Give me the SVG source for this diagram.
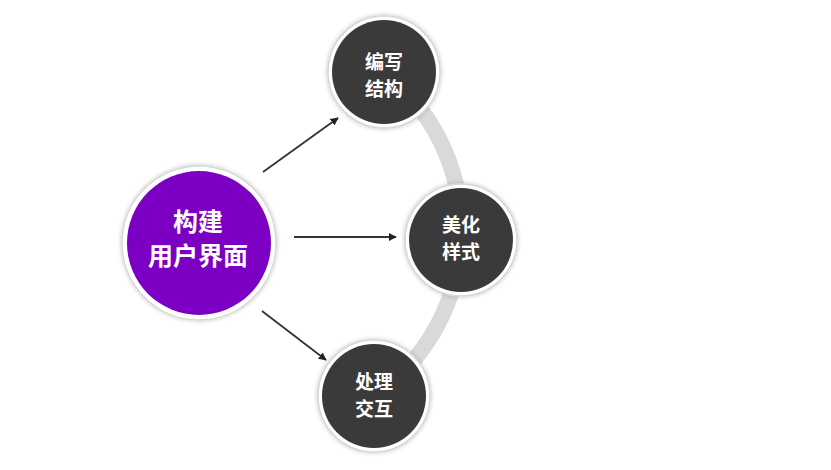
<svg xmlns="http://www.w3.org/2000/svg" width="831" height="470" viewBox="0 0 831 470">
<style>
.ring{fill:#ffffff;stroke:#d6d6d6;stroke-width:1.5}
.dark{fill:#3a3a3a}
.purple{fill:#7b00c4}
.t{font-family:"Noto Sans CJK SC","Noto Sans",sans-serif;font-weight:bold;fill:#ffffff;text-anchor:middle}
.s{font-size:19px}
.b{font-size:25px}
.conn{stroke:#333333;stroke-width:1.8;fill:none;marker-end:url(#ah)}
</style>
<defs>
<marker id="ah" viewBox="0 0 10 10" refX="9" refY="5" markerWidth="8" markerHeight="8" orient="auto" markerUnits="userSpaceOnUse">
<path d="M0,0 L10,5 L0,10 z" fill="#222222"/>
</marker>
<filter id="sh" x="-20%" y="-20%" width="140%" height="140%">
<feGaussianBlur in="SourceAlpha" stdDeviation="2"/>
<feOffset dx="0" dy="0" result="b"/>
<feFlood flood-color="#000000" flood-opacity="0.25"/>
<feComposite in2="b" operator="in"/>
<feMerge><feMergeNode/><feMergeNode in="SourceGraphic"/></feMerge>
</filter>
</defs>
<rect width="831" height="470" fill="#ffffff"/>
<path d="M384,72 A201,201 0 0 1 374,396" fill="none" stroke="#d9d9d9" stroke-width="16"/>
<g id="connectors">
<line class="conn" x1="263" y1="172" x2="338" y2="118"/>
<line class="conn" x1="294" y1="237" x2="396" y2="237"/>
<line class="conn" x1="262" y1="311" x2="326" y2="360"/>
</g>
<g id="node-main">
<circle class="ring" cx="199" cy="243" r="77" filter="url(#sh)"/>
<circle class="purple" cx="199" cy="243" r="72"/>
<text class="t b" x="198" y="231">构建</text>
<text class="t b" x="198" y="265">用户界面</text>
</g>
<g id="node-structure">
<circle class="ring" cx="384" cy="72" r="56" filter="url(#sh)"/>
<circle class="dark" cx="384" cy="72" r="52"/>
<text class="t s" x="384" y="69">编写</text>
<text class="t s" x="384" y="96">结构</text>
</g>
<g id="node-style">
<circle class="ring" cx="461" cy="240" r="56" filter="url(#sh)"/>
<circle class="dark" cx="461" cy="240" r="52"/>
<text class="t s" x="461" y="232">美化</text>
<text class="t s" x="461" y="259">样式</text>
</g>
<g id="node-interaction">
<circle class="ring" cx="374" cy="396" r="56" filter="url(#sh)"/>
<circle class="dark" cx="374" cy="396" r="52"/>
<text class="t s" x="374" y="389">处理</text>
<text class="t s" x="374" y="416">交互</text>
</g>
</svg>
